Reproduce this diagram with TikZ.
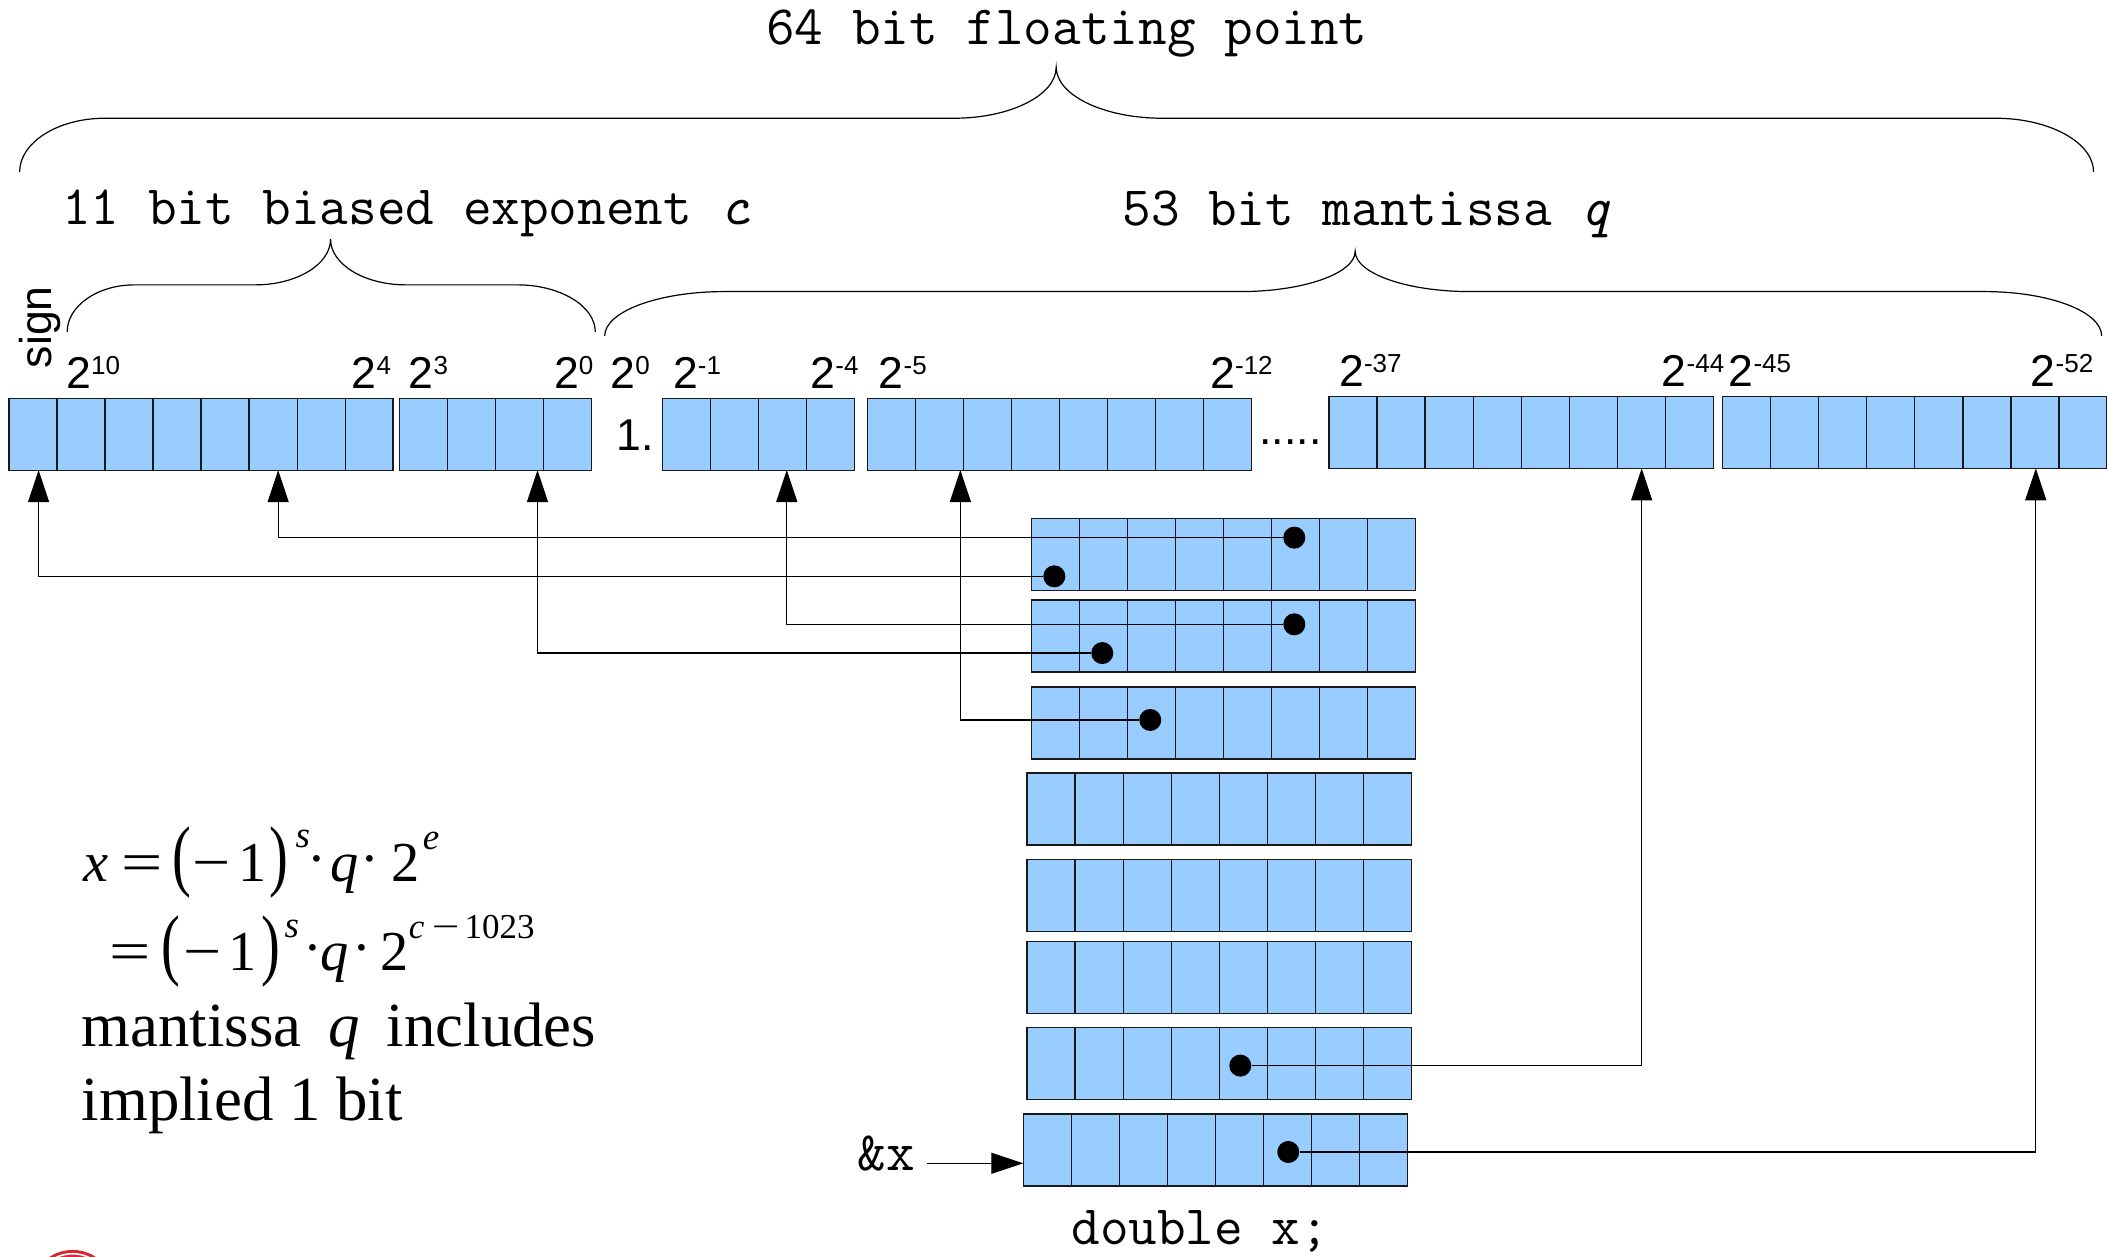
\documentclass[tikz,border=0pt]{standalone}
\usepackage{fontspec}
\usepackage{graphicx}
\setmainfont{Liberation Serif}
\newfontfamily\labelsans{Liberation Sans}
\usetikzlibrary{arrows.meta,calc}

\definecolor{bitblue}{RGB}{153,204,255}
\definecolor{cellline}{RGB}{25,25,25}
\definecolor{logored}{RGB}{215,35,50}

\newlength\pxu
\setlength\pxu{0.6719pt}
% one glyph centred at a given advance from the previous one
\newcommand\gl[2]{\hspace*{#1\pxu}\makebox[0pt]{#2}}
\newcommand\bp[1]{\scalebox{1}[1.4]{#1}}
\newcommand\sups[2]{\raisebox{#1\pxu}{\fontsize{18.5}{20}\selectfont\itshape #2}}
\newcommand\cdt{\raisebox{3\pxu}{·}}
\newcommand\powtwo[1]{2\raisebox{7pt}{\fontsize{13}{14}\selectfont #1}}

\begin{document}
\begin{tikzpicture}[
  x=0.6719pt, y=-0.6719pt,
  cells/.style={path picture={
    \foreach \k in {1,...,#1}
      \draw[cellline, fill=none, line width=0.6pt]
        ($(path picture bounding box.north west)!{\k/(#1+1)}!(path picture bounding box.north east)$) --
        ($(path picture bounding box.south west)!{\k/(#1+1)}!(path picture bounding box.south east)$);
  }},
  byte/.style={draw=cellline, fill=bitblue, line width=0.7pt, anchor=north west,
    inner sep=0pt, outer sep=0pt, minimum height=53.6*0.6719pt,
    minimum width=286*0.6719pt, cells=7},
  nibble/.style={byte, minimum width=143*0.6719pt, cells=3},
  lbl/.style={inner sep=0pt, anchor=base west, font=\labelsans\fontsize{22.3}{26}\selectfont},
  mono/.style={inner sep=0pt, anchor=base west, font=\ttfamily\fontsize{27.8}{30}\selectfont},
  formula/.style={inner sep=0pt, anchor=base west, font=\fontsize{28.2}{32}\selectfont},
  bigtext/.style={inner sep=0pt, anchor=base west, font=\fontsize{31.4}{36}\selectfont},
  bulb/.style={circle, fill=black, inner sep=0pt, minimum size=16.4*0.6719pt},
  wire/.style={draw=black, line width=0.6pt},
  uparrow/.style={-{Triangle[length=16pt,width=10.5pt]}},
  brace/.style={draw=black, line width=0.6pt},
]
\useasboundingbox[fill=white] (0,0) rectangle (1568,935);

% ---- braces and their captions ----
\node[mono] (cap64) at (570,33) {64 bit floating point};
\draw[brace] (14.6,128) .. controls (14.6,106) and (43.1,88) .. (78,88) -- (710,88)
  .. controls (751.8,88) and (786,70.9) .. (786,50)
  .. controls (786,70.9) and (821.5,88) .. (865,88) -- (1485,88)
  .. controls (1525.2,88) and (1558,106) .. (1558,128);

\node[mono] (capexp) at (46,167) {11 bit biased exponent {\itshape c}};
\draw[brace] (50,247) .. controls (50,227.75) and (72.5,212) .. (100,212) -- (190,212)
  .. controls (220.8,212) and (246,196.7) .. (246,178)
  .. controls (246,196.7) and (271.2,212) .. (302,212) -- (385,212)
  .. controls (416.9,212) and (443,227.75) .. (443,247);

\node[mono] (capman) at (835,168) {53 bit mantissa {\itshape q}};
\draw[brace] (450,250) .. controls (450,231.85) and (490,217) .. (539,217) -- (923,217)
  .. controls (970,217) and (1008.5,203.5) .. (1008.5,187)
  .. controls (1008.5,203.5) and (1047,217) .. (1094,217) -- (1477,217)
  .. controls (1524.9,217) and (1564,231.85) .. (1564,250);

% ---- bit weights ----
\node[lbl, rotate=90, anchor=center] (sgn) at (30,243.5) {sign};
\node[lbl] (p10) at (49,289) {\powtwo{10}};
\node[lbl] (p4) at (261.5,289) {\powtwo{4}};
\node[lbl] (p3) at (304,289) {\powtwo{3}};
\node[lbl] (p0a) at (412,289) {\powtwo{0}};
\node[lbl] (p0b) at (454,289) {\powtwo{0}};
\node[lbl] (pm1) at (500.6,289) {\powtwo{-1}};
\node[lbl] (pm4) at (603,289) {\powtwo{-4}};
\node[lbl] (pm5) at (653.7,289) {\powtwo{-5}};
\node[lbl] (pm12) at (900.4,289) {\powtwo{-12}};
\node[lbl] (pm37) at (996.3,288) {\powtwo{-37}};
\node[lbl] (pm44) at (1236.4,288) {\powtwo{-44}};
\node[lbl] (pm45) at (1286.2,288) {\powtwo{-45}};
\node[lbl] (pm52) at (1511,288) {\powtwo{-52}};

% ---- register layout ----
\node[byte] (g1) at (6.6,296.4) {};
\node[nibble] (g2) at (297.3,296.4) {};
\node[lbl] (one) at (458.5,335) {1.};
\node[nibble] (g3) at (493.1,296.4) {};
\node[byte] (g4) at (645.5,296.4) {};
\node[lbl] (gap) at (937,330.5) {.....};
\node[byte] (g5) at (989,295) {};
\node[byte] (g6) at (1282,295) {};

% ---- memory bytes ----
\node[byte] (w1) at (767.5,385.8) {};
\node[byte] (w2) at (767.5,446.6) {};
\node[byte] (w3) at (767.5,511.2) {};
\node[byte] (w4) at (764.3,575.3) {};
\node[byte] (w5) at (764.3,639.5) {};
\node[byte] (w6) at (764.3,700.5) {};
\node[byte] (w7) at (764.3,764.8) {};
\node[byte] (w8) at (761.5,829) {};

\node[mono] (addr) at (638,871) {\&x};
\coordinate (addrstart) at (690,865.7);
\draw[wire, uparrow] (addrstart) -- (addrstart -| w8.west);
\node[mono] (decl) at (797,926.5) {double x;};

% ---- bit origins and destinations ----
\node[bulb] (d1) at (963.2,400.1) {};
\node[bulb] (d2) at (784.6,428.9) {};
\node[bulb] (d3) at (963.2,464.6) {};
\node[bulb] (d4) at (820.3,486) {};
\node[bulb] (d5) at (856,535.8) {};
\node[bulb] (d6) at (923,793) {};
\node[bulb] (d7) at (958.7,857.3) {};

\coordinate (t1) at (28.7,349.8);
\coordinate (t2) at (207,349.8);
\coordinate (t3) at (400,349.8);
\coordinate (t4) at (585.5,349.8);
\coordinate (t5) at (714.7,349.8);
\coordinate (t6) at (1221.7,348.5);
\coordinate (t7) at (1515,348.5);

\draw[wire, uparrow] (d2) -| (t1);
\draw[wire, uparrow] (d1) -| (t2);
\draw[wire, uparrow] (d4) -| (t3);
\draw[wire, uparrow] (d3) -| (t4);
\draw[wire, uparrow] (d5) -| (t5);
\draw[wire, uparrow] (d6) -| (t6);
\draw[wire, uparrow] (d7) -| (t7);

% ---- value formula ----
\node[formula] (f1) at (61.5,656) {\gl{10}{\itshape x}\gl{34}{\scalebox{1.3}[1]{=}}\gl{29.7}{\bp(}\gl{21.8}{\scalebox{1.2}[1]{−}}\gl{30.7}{1}\gl{19.9}{\bp)}\gl{17.4}{\sups{25}{s}}\gl{10.5}{\cdt}\gl{20.3}{\itshape q}\gl{19}{\cdt}\gl{26.7}{2}\gl{19}{\sups{24}{e}}};
\node[formula] (f2) at (83,722) {\gl{13.3}{\scalebox{1.3}[1]{=}}\gl{30.7}{\bp(}\gl{23.3}{\scalebox{1.2}[1]{−}}\gl{29.9}{1}\gl{20.8}{\bp)}\gl{15.8}{\sups{24}{s}}\gl{15.9}{\cdt}\gl{16.3}{\itshape q}\gl{20}{\cdt}\gl{24}{2}\gl{16.8}{\raisebox{23.7\pxu}{\fontsize{17.5}{20}\selectfont\itshape c}}\gl{21.6}{\raisebox{23.7\pxu}{\fontsize{17.5}{20}\selectfont\scalebox{1.4}[1]{−}}}\hspace*{14.1\pxu}\raisebox{23.7\pxu}{\fontsize{17.5}{20}\selectfont 1023}};
\node[bigtext] (f3) at (60.5,779) {mantissa\hspace{0.43em}{\itshape q}\hspace{0.43em}includes};
\node[bigtext] (f4) at (60.5,833.5) {implied 1 bit};

% ---- emblem at the lower edge ----
\begin{scope}
  \clip (0,0) rectangle (1568,935);
  \fill[logored] (54,961.6) circle[radius=21.1pt];
  \draw[white, line width=0.8pt] (54,961.6) circle[radius=19.2pt];
\end{scope}
\end{tikzpicture}
\end{document}
